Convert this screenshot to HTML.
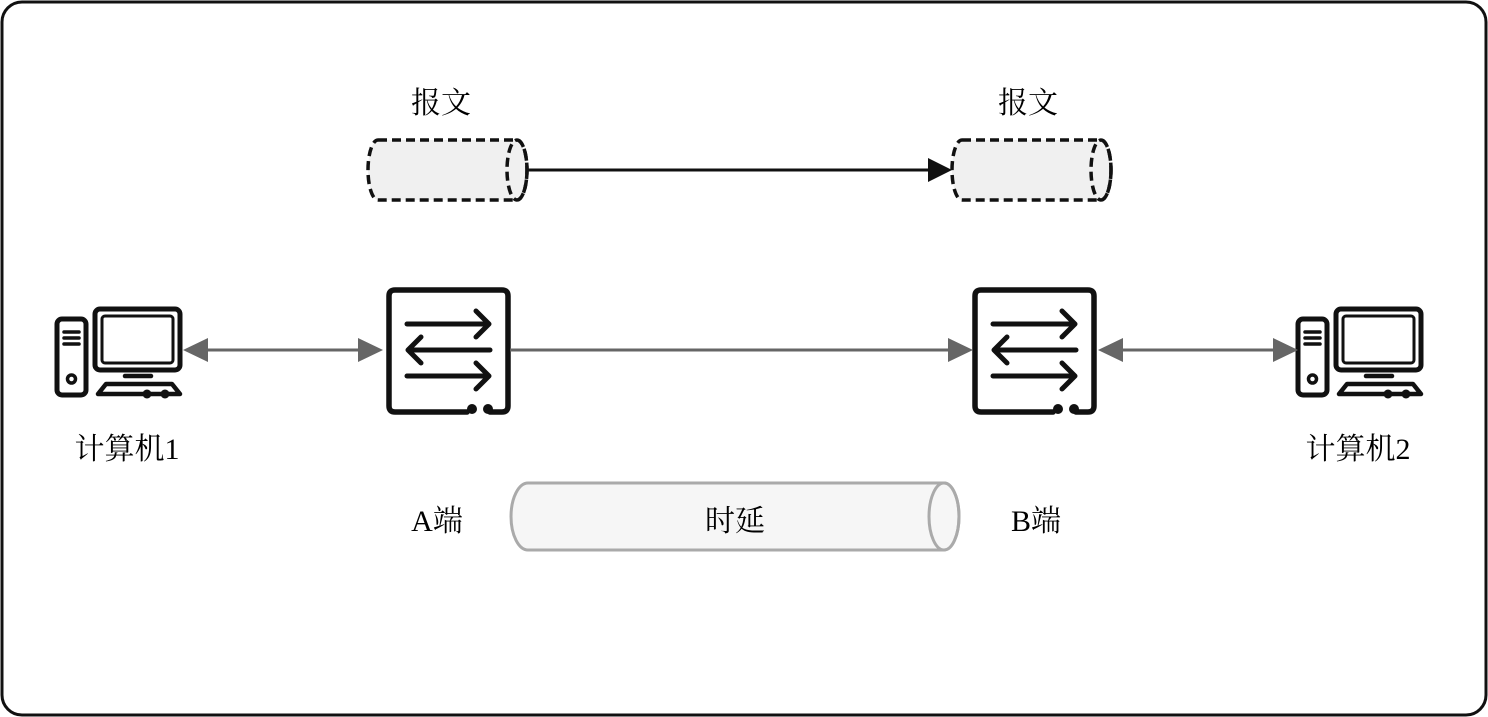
<!DOCTYPE html>
<html><head><meta charset="utf-8"><style>
html,body{margin:0;padding:0;background:#fff;}
svg{display:block;}
text{font-family:"Liberation Serif","Noto Serif CJK SC",serif;fill:#000;}
</style></head><body>
<svg width="1488" height="717" viewBox="0 0 1488 717" xmlns="http://www.w3.org/2000/svg">
<defs>
<g id="comp" fill="none" stroke="#111" stroke-linecap="round" stroke-linejoin="round">
  <rect x="2" y="12" width="29" height="76" rx="5" stroke-width="5"/>
  <line x1="9" y1="25" x2="24" y2="25" stroke-width="3.5"/>
  <line x1="9" y1="31" x2="24" y2="31" stroke-width="3.5"/>
  <line x1="9" y1="37" x2="24" y2="37" stroke-width="3.5"/>
  <circle cx="16.5" cy="72" r="4" stroke-width="3.5"/>
  <rect x="40" y="2" width="85" height="61" rx="5" stroke-width="5"/>
  <rect x="47" y="9" width="71" height="47" rx="3" stroke-width="3"/>
  <line x1="70" y1="69" x2="96" y2="69" stroke-width="4.5"/>
  <path d="M43 87 L51 77 L117 77 L125 87 Z" stroke-width="4.5"/>
  <circle cx="92" cy="87" r="4.5" fill="#111" stroke="none"/>
  <circle cx="110" cy="87" r="4.5" fill="#111" stroke="none"/>
</g>
<g id="sw" fill="none" stroke="#111" stroke-linecap="round" stroke-linejoin="round">
  <path d="M80 124 L8 124 Q2 124 2 118 L2 8 Q2 2 8 2 L115 2 Q121 2 121 8 L121 118 Q121 124 115 124 L103 124" stroke-width="5.5"/>
  <circle cx="85" cy="121" r="5" fill="#111" stroke="none"/>
  <circle cx="101" cy="121" r="5" fill="#111" stroke="none"/>
  <line x1="20" y1="36" x2="101" y2="36" stroke-width="5"/>
  <polyline points="89,23 102,36 89,49" stroke-width="5"/>
  <line x1="22" y1="62" x2="103" y2="62" stroke-width="5"/>
  <polyline points="34,49 21,62 34,75" stroke-width="5"/>
  <line x1="20" y1="88" x2="101" y2="88" stroke-width="5"/>
  <polyline points="89,75 102,88 89,101" stroke-width="5"/>
</g>
</defs>
<rect x="2" y="2" width="1484" height="713" rx="20" fill="#fff" stroke="#111" stroke-width="3"/>

<text x="441" y="113" font-size="30" text-anchor="middle">报文</text>
<text x="1028" y="113" font-size="30" text-anchor="middle">报文</text>
<g fill="#f0f0f0" stroke="#111" stroke-width="3.5" stroke-dasharray="9,5">
  <path d="M378 140 L517 140 A10 30 0 0 1 517 200 L378 200 A10 30 0 0 1 378 140 Z"/>
  <ellipse cx="517" cy="170" rx="10" ry="30" fill="none"/>
  <path d="M962 140 L1101 140 A10 30 0 0 1 1101 200 L962 200 A10 30 0 0 1 962 140 Z"/>
  <ellipse cx="1101" cy="170" rx="10" ry="30" fill="none"/>
</g>
<line x1="527" y1="170" x2="930" y2="170" stroke="#111" stroke-width="3"/>
<polygon points="952,170 928,158 928,182" fill="#111"/>

<use href="#comp" x="55" y="307"/>
<use href="#comp" x="1296" y="307"/>
<text x="127" y="459" font-size="30" text-anchor="middle">计算机1</text>
<text x="1358" y="459" font-size="30" text-anchor="middle">计算机2</text>

<use href="#sw" x="387" y="288"/>
<use href="#sw" x="973" y="288"/>

<g stroke="#666" stroke-width="3">
  <line x1="205" y1="350" x2="362" y2="350"/>
  <line x1="510" y1="350" x2="950" y2="350"/>
  <line x1="1120" y1="350" x2="1276" y2="350"/>
</g>
<g fill="#666">
  <polygon points="183,350 208,338 208,362"/>
  <polygon points="383,350 358,338 358,362"/>
  <polygon points="973,350 948,338 948,362"/>
  <polygon points="1098,350 1123,338 1123,362"/>
  <polygon points="1298,350 1273,338 1273,362"/>
</g>

<path d="M528 483 L944 483 A15 33.5 0 0 1 944 550 L528 550 A17 33.5 0 0 1 528 483 Z" fill="#f6f6f6" stroke="#aaa" stroke-width="3"/>
<ellipse cx="944" cy="516.5" rx="15" ry="33.5" fill="none" stroke="#aaa" stroke-width="3"/>
<text x="735" y="531" font-size="30" text-anchor="middle">时延</text>
<text x="437" y="531" font-size="30" text-anchor="middle">A端</text>
<text x="1036" y="531" font-size="30" text-anchor="middle">B端</text>
</svg>
</body></html>
